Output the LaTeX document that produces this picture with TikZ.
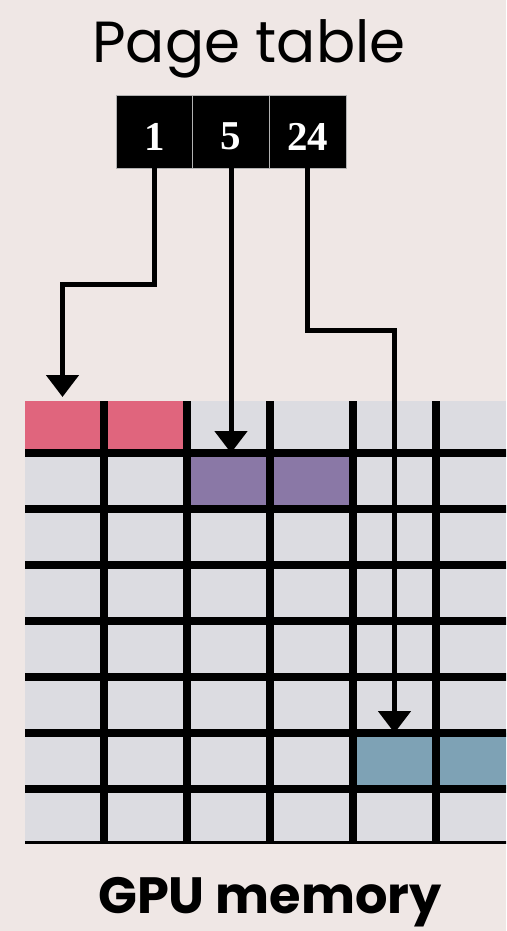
\documentclass[tikz,border=0pt]{standalone}
\usepackage{fontspec}
\newfontfamily\titlefont{Poppins}
\newfontfamily\numfont{Liberation Serif}
\usepackage{tikz}
\usetikzlibrary{positioning, arrows.meta, calc}

\definecolor{bgcol}{HTML}{EFE7E5}
\definecolor{cellgray}{HTML}{DCDCE1}
\definecolor{pinkpg}{HTML}{E0657D}
\definecolor{purplepg}{HTML}{8A78A6}
\definecolor{bluepg}{HTML}{7EA2B5}

\begin{document}
\begin{tikzpicture}
  [
    x=1pt, y=-1pt,
    ptcell/.style={draw=gray!60, fill=black, text=white, line width=0.8pt,
      minimum width=76.7pt, minimum height=73pt, inner sep=0pt, outer sep=0pt,
      font=\numfont\bfseries\fontsize{41}{41}\selectfont, text height=37pt},
    page/.style={minimum width=83pt, minimum height=56pt, inner sep=0pt, outer sep=0pt},
    gridline/.style={line width=8pt},
    ptr/.style={-{Triangle[width=32pt, length=22pt]}, line width=5pt}
  ]
    \useasboundingbox (0,0) rectangle (506,931);
    \fill [bgcol] (0,0) rectangle (506,931);

    % =========================================================================
    % TITLES
    % =========================================================================
    \node [anchor=base, font=\titlefont\fontsize{58}{58}\selectfont] (title) at (249,63) {Page table};
    \node [anchor=base, font=\titlefont\bfseries\fontsize{51}{51}\selectfont] (memlabel) at (270,913) {GPU memory};

    % =========================================================================
    % PAGE TABLE
    % =========================================================================
    \node [ptcell] (pt1) at (154.3,131.5) {1};
    \node [ptcell, right=0pt of pt1] (pt5) {5};
    \node [ptcell, right=0pt of pt5] (pt24) {24};

    % =========================================================================
    % GPU MEMORY
    % =========================================================================
    \begin{scope}
      \clip (25,401) rectangle (506,843);
      \fill [cellgray] (25,401) rectangle (506,843);
      \node [page, fill=pinkpg] (pg1) at (62.5,425) {};
      \node [page, fill=pinkpg] (pg2) at (145.5,425) {};
      \node [page, fill=purplepg] (pg5) at (228.5,481) {};
      \node [page, fill=purplepg] (pg6) at (311.5,481) {};
      \node [page, fill=bluepg] (pg24) at (394.5,761) {};
      \node [page, fill=bluepg] (pg25) at (477.5,761) {};
      \foreach \r in {1,...,8}
        \draw [gridline] (17,{397+56*\r}) -- (520,{397+56*\r});
      \foreach \c in {1,...,5}
        \draw [gridline] ({21+83*\c},390) -- ({21+83*\c},850);
    \end{scope}

    % =========================================================================
    % POINTERS
    % =========================================================================
    \draw [ptr] (pt1.south) -- ++(0,116.5) -| (pg1.north);
    \draw [ptr] (pt5.south) -- (pt5.south |- pg5.north);
    \draw [ptr] (pt24.south) -- ++(0,162.5) -| (pg24.north);

  \end{tikzpicture}
\end{document}
